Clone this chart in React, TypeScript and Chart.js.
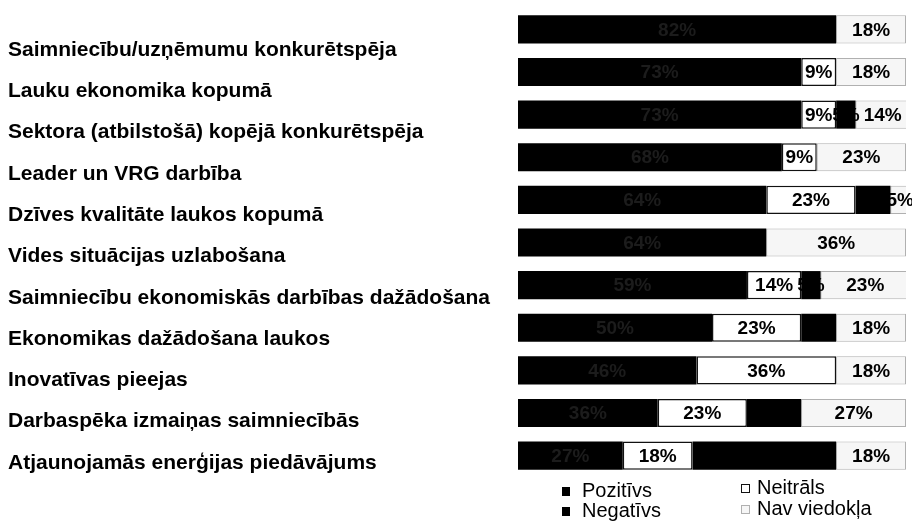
import React, { useEffect, useRef } from "react";
import { Chart, registerables } from "chart.js";

Chart.register(...registerables);

const categories = [
  "Saimniecību/uzņēmumu konkurētspēja",
  "Lauku ekonomika kopumā",
  "Sektora (atbilstošā) kopējā konkurētspēja",
  "Leader un VRG darbība",
  "Dzīves kvalitāte laukos kopumā",
  "Vides situācijas uzlabošana",
  "Saimniecību ekonomiskās darbības dažādošana",
  "Ekonomikas dažādošana laukos",
  "Inovatīvas pieejas",
  "Darbaspēka izmaiņas saimniecībās",
  "Atjaunojamās enerģijas piedāvājums",
];

const pozitivs = [82, 73, 73, 68, 64, 64, 59, 50, 46, 36, 27];
const neitrals = [null, 9, 9, 9, 23, null, 14, 23, 36, 23, 18];
const negativs = [null, null, 5, null, 9, null, 5, 9, null, 14, 37];
const navViedokla = [18, 18, 14, 23, 5, 36, 23, 18, 18, 27, 18];

const seriesNames = ["Pozitīvs", "Neitrāls", "Negatīvs", "Nav viedokļa"];

const FONT = "'Liberation Sans', Arial, Helvetica, sans-serif";

const labelColors = ["#1c1c1c", "#000000", "#000000", "#000000"];

const valueLabelsPlugin = {
  id: "valueLabels",
  afterDatasetsDraw(chart: any) {
    const ctx = chart.ctx;
    ctx.save();
    ctx.font = `bold 19px ${FONT}`;
    ctx.textAlign = "center";
    ctx.textBaseline = "middle";
    chart.data.datasets.forEach((ds: any, di: number) => {
      const meta = chart.getDatasetMeta(di);
      meta.data.forEach((bar: any, i: number) => {
        const v = ds.data[i];
        if (v === null || v === undefined) return;
        const cx = (bar.x + bar.base) / 2;
        ctx.fillStyle = labelColors[di];
        ctx.fillText(`${v}%`, cx, bar.y + 1);
      });
    });
    ctx.restore();
  },
};

const legendPlugin = {
  id: "gridLegend",
  afterDraw(chart: any) {
    const ctx = chart.ctx;
    const area = chart.chartArea;
    const ds = chart.data.datasets;
    const x1 = area.left + 44;
    const x2 = area.left + 223;
    const items = [
      { d: 0, x: x1, y: area.bottom + 14, gap: 20 },
      { d: 2, x: x1, y: area.bottom + 34, gap: 20 },
      { d: 1, x: x2, y: area.bottom + 11, gap: 16 },
      { d: 3, x: x2, y: area.bottom + 32, gap: 16 },
    ];
    ctx.save();
    ctx.font = `20px ${FONT}`;
    ctx.textAlign = "left";
    ctx.textBaseline = "middle";
    items.forEach((it) => {
      const d = ds[it.d];
      ctx.fillStyle = d.backgroundColor;
      ctx.fillRect(it.x, it.y - 4, 8, 9);
      if (d.borderWidth) {
        ctx.strokeStyle = d.borderColor;
        ctx.lineWidth = 1;
        ctx.strokeRect(it.x + 0.5, it.y - 3.5, 8, 8);
      }
      ctx.fillStyle = "#000";
      ctx.fillText(d.label, it.x + it.gap, it.y);
    });
    ctx.restore();
  },
};

export default function App() {
  const ref = useRef<HTMLCanvasElement | null>(null);

  useEffect(() => {
    if (!ref.current) return;
    const chart = new Chart(ref.current, {
      type: "bar",
      data: {
        labels: categories,
        datasets: [
          { label: seriesNames[0], data: pozitivs, backgroundColor: "#000000", borderWidth: 0 },
          { label: seriesNames[1], data: neitrals, backgroundColor: "#ffffff", borderColor: "#111111", borderWidth: 1.5, borderSkipped: false },
          { label: seriesNames[2], data: negativs, backgroundColor: "#000000", borderWidth: 0 },
          { label: seriesNames[3], data: navViedokla, backgroundColor: "#f6f6f6", borderColor: "#b0b0b0", borderWidth: 1, borderSkipped: false },
        ] as any,
      },
      options: {
        indexAxis: "y",
        animation: false,
        responsive: true,
        maintainAspectRatio: false,
        layout: { padding: { top: 0, bottom: 44, right: 14, left: 0 } },
        datasets: { bar: { categoryPercentage: 1, barPercentage: 0.66 } } as any,
        plugins: { legend: { display: false }, tooltip: { enabled: false } },
        scales: {
          x: { stacked: true, min: 0, max: 100, display: false },
          y: { stacked: true, display: false },
          yLabels: {
            type: "linear",
            axis: "y",
            position: "left",
            reverse: true,
            offset: false,
            bounds: "data",
            min: -1.02,
            max: 10.34,
            grid: { display: false, offset: false },
            border: { display: false },
            afterBuildTicks(scale: any) {
              scale.ticks = categories.map((_, i) => ({ value: i }));
            },
            afterFit(scale: any) {
              scale.width = 510;
              scale.paddingTop = 0;
              scale.paddingBottom = 0;
            },
            ticks: {
              crossAlign: "far",
              autoSkip: false,
              color: "#000",
              font: { family: FONT, size: 21, weight: "bold" },
              callback: (v: any) => categories[v] ?? "",
            },
          } as any,
        },
      },
      plugins: [valueLabelsPlugin, legendPlugin],
    });
    return () => chart.destroy();
  }, []);

  return (
    <div style={{ position: "relative", width: 912, height: 513 }}>
      <canvas ref={ref} />
    </div>
  );
}
